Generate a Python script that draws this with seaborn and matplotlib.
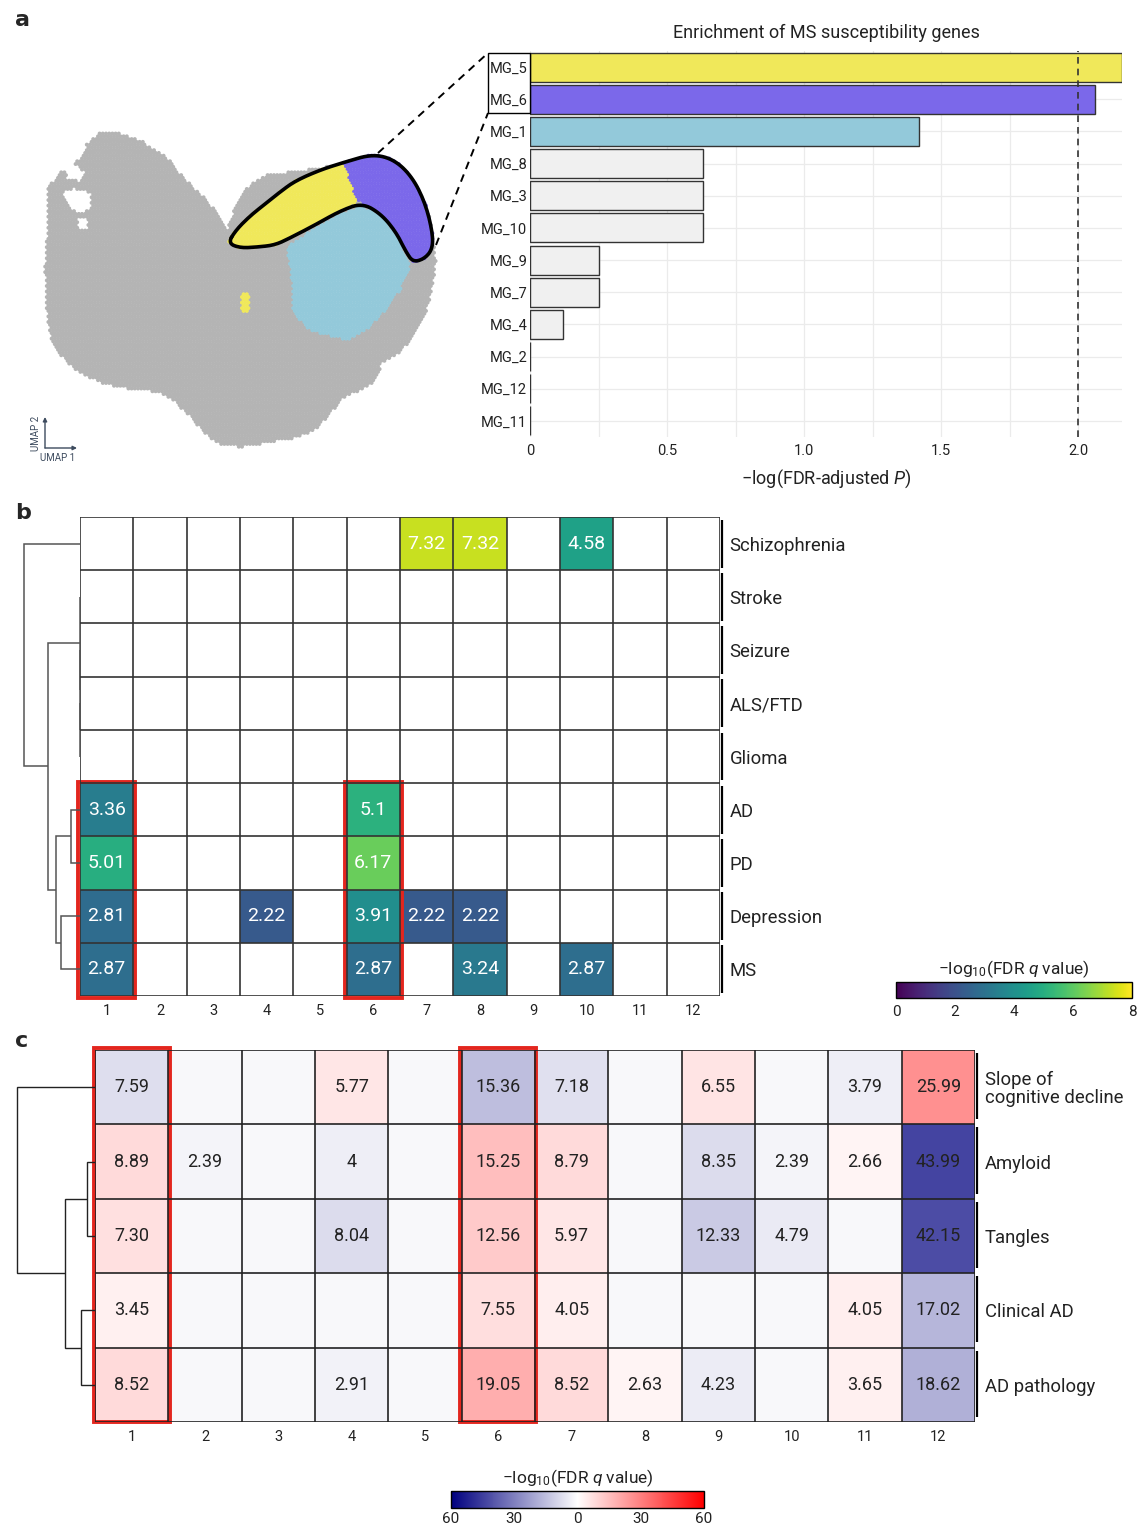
import numpy as np
import pandas as pd
import matplotlib
matplotlib.use("Agg")
import matplotlib.pyplot as plt
import seaborn as sns
from matplotlib.path import Path
from matplotlib.lines import Line2D
from matplotlib.patches import Rectangle
from matplotlib.colors import LinearSegmentedColormap, Normalize
from matplotlib.cm import ScalarMappable

sns.set_theme(style="white")
plt.rcParams["font.family"] = ["Roboto", "DejaVu Sans"]
plt.rcParams["mathtext.fontset"] = "custom"
plt.rcParams["mathtext.rm"] = "Roboto"
plt.rcParams["mathtext.it"] = "Roboto:italic"

# ---------------- data ----------------
# panel a: enrichment of MS susceptibility genes per microglia cluster
mg_clusters = ["MG_5", "MG_6", "MG_1", "MG_8", "MG_3", "MG_10",
               "MG_9", "MG_7", "MG_4", "MG_2", "MG_12", "MG_11"]
ms_enrichment = [2.16, 2.06, 1.42, 0.63, 0.63, 0.63, 0.25, 0.25, 0.12, 0.0, 0.0, 0.0]
bar_colors = ["#f0e85a", "#7b68ea", "#93c9da"] + ["#f0f0f0"] * 9
bar_ticks = [0, 0.5, 1.0, 1.5, 2.0]
bar_ticklabels = ["0", "0.5", "1.0", "1.5", "2.0"]
significance_line = 2.0

# UMAP regions (embedding outline and cluster territories)
umap_cloud = [(48, 187), (60, 173), (83, 157), (87, 143), (100, 133), (117, 132),
              (140, 140), (167, 157), (180, 173), (193, 187), (207, 200), (217, 213),
              (227, 230), (236, 205), (243, 193), (253, 182), (267, 174), (290, 172),
              (320, 168), (345, 163), (375, 156), (410, 178), (430, 215), (436, 260),
              (433, 283), (427, 310), (413, 337), (400, 353), (382, 362), (376, 380),
              (360, 391), (342, 398), (332, 412), (318, 428), (300, 437), (267, 443),
              (240, 447), (220, 445), (205, 434), (190, 417), (173, 400), (158, 392),
              (130, 389), (105, 384), (85, 376), (68, 364), (56, 349), (49, 333),
              (46, 305), (45, 270), (47, 233)]
umap_holes = [
    [(64, 168), (76, 164), (84, 172), (80, 181), (68, 180)],
    [(63, 192), (74, 188), (90, 193), (92, 206), (84, 213), (70, 210)],
    [(77, 218), (86, 217), (88, 228), (79, 230)],
]
umap_mg5 = [(228, 243), (236, 230), (250, 216), (265, 204), (280, 192), (295, 181),
            (320, 170), (343, 163), (350, 180), (357, 202), (340, 211), (315, 225),
            (290, 238), (275, 245), (258, 247), (240, 248)]
umap_mg5_satellite = [(241, 293), (249, 293), (249, 313), (241, 313)]
umap_mg6 = [(343, 163), (373, 154), (395, 160), (413, 178), (426, 205), (433, 235),
            (432, 250), (424, 259), (413, 262), (406, 252), (396, 232), (381, 214),
            (362, 203), (357, 202), (350, 180)]
umap_mg1 = [(287, 247), (315, 228), (340, 214), (362, 206), (381, 216), (396, 235),
            (406, 255), (410, 267), (400, 290), (383, 313), (367, 330), (350, 340),
            (333, 337), (310, 330), (300, 320), (292, 310), (293, 290), (290, 267)]
umap_highlight = [(228, 243), (236, 230), (250, 216), (265, 204), (280, 192), (295, 181),
                  (320, 170), (345, 162), (373, 154), (395, 160), (413, 178), (426, 205),
                  (433, 235), (432, 250), (424, 259), (413, 262), (406, 252), (396, 232),
                  (381, 214), (362, 203), (340, 211), (315, 225), (290, 238), (275, 245),
                  (258, 247), (240, 248)]
umap_palette = {"other": "#b4b4b4", "MG_5": "#f0e85a", "MG_6": "#7b68ea", "MG_1": "#93c9da"}

# panel b: disease risk gene enrichment, -log10(FDR q)
disease_traits = ["Schizophrenia", "Stroke", "Seizure", "ALS/FTD", "Glioma",
                  "AD", "PD", "Depression", "MS"]
cluster_ids = [str(i) for i in range(1, 13)]
nan = np.nan
disease_q = [
    [nan, nan, nan, nan, nan, nan, 7.32, 7.32, nan, 4.58, nan, nan],
    [nan] * 12,
    [nan] * 12,
    [nan] * 12,
    [nan] * 12,
    [3.36, nan, nan, nan, nan, 5.1, nan, nan, nan, nan, nan, nan],
    [5.01, nan, nan, nan, nan, 6.17, nan, nan, nan, nan, nan, nan],
    [2.81, nan, nan, 2.22, nan, 3.91, 2.22, 2.22, nan, nan, nan, nan],
    [2.87, nan, nan, nan, nan, 2.87, nan, 3.24, nan, 2.87, nan, nan],
]
# dendrogram: (height, left, right)
disease_tree = (56, "Schizophrenia",
                (32, (0, "Stroke", (0, "Seizure", (0, "ALS/FTD", "Glioma"))),
                 (24, (9, "AD", "PD"), (19, "Depression", "MS"))))
disease_boxed = [1, 6]

# panel c: AD trait enrichment, signed -log10(FDR q) (+ up / - down)
ad_traits = ["Slope of\ncognitive decline", "Amyloid", "Tangles", "Clinical AD", "AD pathology"]
ad_q_text = [
    ["-7.59", "", "", "+5.77", "", "-15.36", "-7.18", "", "+6.55", "", "-3.79", "+25.99"],
    ["+8.89", "-2.39", "", "-4", "", "+15.25", "+8.79", "", "-8.35", "-2.39", "+2.66", "-43.99"],
    ["+7.30", "", "", "-8.04", "", "+12.56", "+5.97", "", "-12.33", "-4.79", "", "-42.15"],
    ["+3.45", "", "", "", "", "+7.55", "+4.05", "", "", "", "+4.05", "-17.02"],
    ["+8.52", "", "", "-2.91", "", "+19.05", "+8.52", "+2.63", "-4.23", "", "+3.65", "-18.62"],
]
ad_tree = (78, "Slope of\ncognitive decline",
           (30, (8, "Amyloid", "Tangles"), (14, "Clinical AD", "AD pathology")))
ad_boxed = [1, 6]

# ---------------- figure ----------------
W, H = 1137, 1528
fig = plt.figure(figsize=(W / 100, H / 100), dpi=100)
TXT = "#222222"


def add_ax(l, t, r, b):
    return fig.add_axes([l / W, 1 - b / H, (r - l) / W, (b - t) / H])


def fig_xy(x, y):
    return x / W, 1 - y / H


def draw_tree(ax, node, leaf_pos, color, lw):
    if isinstance(node, str):
        return leaf_pos[node], 0.0
    h, left, right = node
    yl, hl = draw_tree(ax, left, leaf_pos, color, lw)
    yr, hr = draw_tree(ax, right, leaf_pos, color, lw)
    ax.plot([hl, h, h, hr], [yl, yl, yr, yr], color=color, lw=lw,
            solid_capstyle="butt", solid_joinstyle="miter")
    return (yl + yr) / 2, h


def chaikin(pts, n=3):
    p = np.asarray(pts, float)
    for _ in range(n):
        q = np.roll(p, -1, axis=0)
        a = 0.75 * p + 0.25 * q
        b = 0.25 * p + 0.75 * q
        p = np.empty((2 * len(a), 2))
        p[0::2] = a
        p[1::2] = b
    return p


# ---- panel a: UMAP ----
axu = add_ax(30, 110, 480, 470)
step = 3.2
gx, gy = [], []
for j, yy in enumerate(np.arange(128, 452, step * np.sqrt(3) / 2)):
    off = step / 2 if j % 2 else 0
    for xx in np.arange(42, 440, step):
        gx.append(xx + off)
        gy.append(yy)
pts = np.column_stack([gx, gy])
in_cloud = Path(umap_cloud).contains_points(pts)
for hole in umap_holes:
    in_cloud &= ~Path(hole).contains_points(pts)
lab = np.full(len(pts), "", dtype=object)
lab[in_cloud] = "other"
lab[Path(umap_mg1).contains_points(pts)] = "MG_1"
lab[Path(umap_mg5).contains_points(pts) | Path(umap_mg5_satellite).contains_points(pts)] = "MG_5"
lab[Path(umap_mg6).contains_points(pts)] = "MG_6"
df_u = pd.DataFrame({"x": pts[:, 0], "y": pts[:, 1], "cluster": lab})
df_u = df_u[df_u.cluster != ""].copy()
df_u["order"] = (df_u.cluster != "other").astype(int)
df_u = df_u.sort_values("order", kind="stable")
sns.scatterplot(data=df_u, x="x", y="y", hue="cluster", palette=umap_palette,
                s=8, linewidth=0, legend=False, ax=axu)
outline = chaikin(umap_highlight, 3)
outline = np.vstack([outline, outline[:1]])
axu.plot(outline[:, 0], outline[:, 1], color="black", lw=2.6, solid_joinstyle="round")
axu.set_xlim(30, 480)
axu.set_ylim(470, 110)
axu.axis("off")
arrow_kw = dict(arrowstyle="-|>", color="#3d4b5e", lw=1.0, mutation_scale=6, shrinkA=0, shrinkB=0)
axu.annotate("", xy=(45, 417), xytext=(45, 448), arrowprops=arrow_kw)
axu.annotate("", xy=(77, 448), xytext=(45, 448), arrowprops=arrow_kw)
axu.text(36, 433, "UMAP 2", rotation=90, ha="center", va="center", fontsize=7, color="#3d4b5e")
axu.text(58, 458, "UMAP 1", ha="center", va="center", fontsize=7, color="#3d4b5e")

# ---- panel a: bar chart ----
axbar = add_ax(530, 51, 1122, 437)
df_a = pd.DataFrame({"cluster": mg_clusters, "score": ms_enrichment})
sns.barplot(data=df_a, x="score", y="cluster", hue="cluster", palette=bar_colors,
            legend=False, orient="h", width=0.9, saturation=1, edgecolor="#333333",
            linewidth=1.0, ax=axbar)
axbar.set_xlim(0, 2.16)
axbar.set_xticks(bar_ticks)
axbar.set_xticklabels(bar_ticklabels)
axbar.set_xticks([0.25, 0.75, 1.25, 1.75], minor=True)
axbar.grid(True, which="both", axis="x", color="#ebebeb", lw=0.9)
axbar.grid(True, which="major", axis="y", color="#ebebeb", lw=0.9)
axbar.set_axisbelow(True)
for s in axbar.spines.values():
    s.set_visible(False)
axbar.axvline(significance_line, color="#333333", lw=1.2, ls=(0, (4, 3)))
axbar.tick_params(axis="both", length=0, labelsize=10.5, colors=TXT)
axbar.tick_params(axis="y", pad=2)
axbar.tick_params(axis="x", pad=5)
axbar.set_ylabel("")
axbar.set_xlabel("\u2212log(FDR-adjusted $P$)", fontsize=13, labelpad=7, color=TXT)
axbar.set_title("Enrichment of MS susceptibility genes", fontsize=13, pad=9, color=TXT)

# zoom-out box and connectors
fig.add_artist(Rectangle(fig_xy(488, 113), 42 / W, 60 / H, transform=fig.transFigure,
                         fill=False, edgecolor="black", lw=1.0))
for (x0, y0), (x1, y1) in [((378, 153), (488, 53)), ((436, 245), (488, 113))]:
    a0, b0 = fig_xy(x0, y0)
    a1, b1 = fig_xy(x1, y1)
    fig.add_artist(Line2D([a0, a1], [b0, b1], transform=fig.transFigure,
                          color="black", lw=1.4, ls=(0, (4, 3))))

# ---- panel b ----
axb = add_ax(80, 517, 720, 996)
df_b = pd.DataFrame(disease_q, index=disease_traits, columns=cluster_ids)
annot_b = np.array([["" if np.isnan(v) else f"{v:g}" for v in row] for row in disease_q], dtype=object)
sns.heatmap(df_b, ax=axb, cmap="viridis", vmin=0, vmax=8, cbar=False,
            annot=annot_b, fmt="", annot_kws=dict(color="white", fontsize=14))
axb.set_facecolor("white")
axb.hlines(np.arange(10), 0, 12, color="#333333", lw=1.2)
axb.vlines(np.arange(13), 0, 9, color="#333333", lw=1.2)
axb.set_xticks(np.arange(12) + 0.5)
axb.set_xticklabels(cluster_ids, rotation=0)
axb.yaxis.tick_right()
axb.set_yticks(np.arange(9) + 0.5)
axb.set_yticklabels(disease_traits, rotation=0)
axb.tick_params(axis="x", length=0, labelsize=10.5, pad=6, colors=TXT)
axb.tick_params(axis="y", length=0, labelsize=13.3, pad=7, colors=TXT)
axb.set_xlabel("")
axb.set_ylabel("")
for i in range(9):
    axb.plot([12.04, 12.04], [i + 0.05, i + 0.95], color="black", lw=1.6,
             clip_on=False, solid_capstyle="butt")
for c in disease_boxed:
    axb.add_patch(Rectangle((c - 1.03, 4.97), 1.06, 4.06, fill=False, edgecolor="#e3261e",
                            lw=2.8, clip_on=False))

axdb = add_ax(20, 517, 80, 996)
draw_tree(axdb, disease_tree, {n: i + 0.5 for i, n in enumerate(disease_traits)}, "#555555", 1.1)
axdb.set_xlim(60, 0)
axdb.set_ylim(9, 0)
axdb.axis("off")

caxb = add_ax(896, 982, 1132, 998)
cb = fig.colorbar(ScalarMappable(norm=Normalize(0, 8), cmap="viridis"), cax=caxb, orientation="horizontal")
cb.set_ticks([0, 2, 4, 6, 8])
cb.outline.set_linewidth(1.0)
cb.outline.set_edgecolor("black")
caxb.tick_params(length=0, labelsize=11, pad=5, colors=TXT)
caxb.set_title("\u2212log$_{10}$(FDR $q$ value)", fontsize=12.5, pad=6, color=TXT)

# ---- panel c ----
axc = add_ax(95, 1050, 975, 1422)
ad_vals = np.array([[float(s) if s else np.nan for s in row] for row in ad_q_text])
annot_c = np.array([[s.lstrip("+-") for s in row] for row in ad_q_text], dtype=object)
df_c = pd.DataFrame(ad_vals, index=ad_traits, columns=cluster_ids)
bwr = LinearSegmentedColormap.from_list("navy_white_red", ["#00007f", "#ffffff", "#ff0000"])
sns.heatmap(df_c, ax=axc, cmap=bwr, vmin=-60, vmax=60, cbar=False,
            annot=annot_c, fmt="", annot_kws=dict(color=TXT, fontsize=13))
axc.set_facecolor("#f8f8fa")
axc.hlines(np.arange(6), 0, 12, color="#222222", lw=1.2)
axc.vlines(np.arange(13), 0, 5, color="#222222", lw=1.2)
axc.set_xticks(np.arange(12) + 0.5)
axc.set_xticklabels(cluster_ids, rotation=0)
axc.yaxis.tick_right()
axc.set_yticks(np.arange(5) + 0.5)
axc.set_yticklabels(ad_traits, rotation=0, ha="left")
axc.tick_params(axis="x", length=0, labelsize=10.5, pad=6, colors=TXT)
axc.tick_params(axis="y", length=0, labelsize=13.3, pad=7, colors=TXT)
for t in axc.get_yticklabels():
    t.set_linespacing(1.0)
axc.set_xlabel("")
axc.set_ylabel("")
for i in range(5):
    axc.plot([12.03, 12.03], [i + 0.04, i + 0.93], color="black", lw=1.6,
             clip_on=False, solid_capstyle="butt")
for c in ad_boxed:
    axc.add_patch(Rectangle((c - 1.02, -0.03), 1.04, 5.03, fill=False, edgecolor="#e3261e",
                            lw=2.8, clip_on=False))

axdc = add_ax(10, 1050, 95, 1422)
draw_tree(axdc, ad_tree, {n: i + 0.5 for i, n in enumerate(ad_traits)}, "#222222", 1.0)
axdc.set_xlim(85, 0)
axdc.set_ylim(5, 0)
axdc.axis("off")

caxc = add_ax(451, 1491, 704, 1508)
cb2 = fig.colorbar(ScalarMappable(norm=Normalize(-60, 60), cmap=bwr), cax=caxc, orientation="horizontal")
cb2.set_ticks([-60, -30, 0, 30, 60])
cb2.set_ticklabels(["60", "30", "0", "30", "60"])
cb2.outline.set_linewidth(1.0)
cb2.outline.set_edgecolor("black")
caxc.tick_params(length=0, labelsize=11, pad=3, colors=TXT)
caxc.set_title("\u2212log$_{10}$(FDR $q$ value)", fontsize=12.5, pad=6, color=TXT)

# panel letters
for letter, (x, y) in {"a": (15, 20), "b": (15, 513), "c": (15, 1041)}.items():
    fig.text(*fig_xy(x, y), letter, fontsize=16, fontweight="bold", va="center", ha="left",
             family=["DejaVu Sans"])

fig.savefig("out.png", dpi=100)
